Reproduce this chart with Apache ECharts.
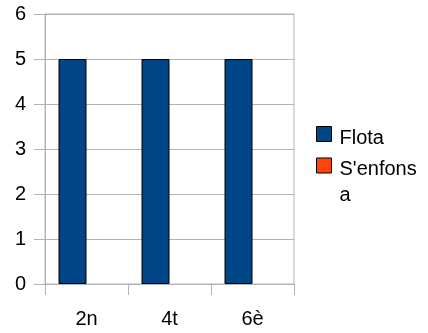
<!DOCTYPE html>
<html>
<head>
<meta charset="utf-8">
<script src="https://cdn.jsdelivr.net/npm/echarts@6/dist/echarts.min.js"></script>
<style>
  html, body { margin: 0; padding: 0; background: #fff; }
  #chart { width: 428px; height: 333px; }
</style>
</head>
<body>
<div id="chart"></div>
<script>
// values
const categories = ['2n', '4t', '6è'];
const flota = [5, 5, 5];
const senfonsa = [0, 0, 0];
const yTicks = [0, 1, 2, 3, 4, 5, 6];

const gray = '#b3b3b3';
const font = 'Liberation Sans, Arial, sans-serif';

// square icon sitting at the top-left of a bigger box, so the legend text
// lands a bit lower and further right than the square (as in the reference)
const iconFlota = 'path://M0,0H15V15H0Z M18,24L18,24';
const iconSenfonsa = 'path://M0,0H15V15H0Z M18,49L18,49';

const chart = echarts.init(document.getElementById('chart'), null, { renderer: 'canvas' });

const option = {
  backgroundColor: '#fff',
  animation: false,
  grid: {
    left: 45, right: 134, top: 14, bottom: 49,
    show: true, borderColor: gray, borderWidth: 1
  },
  legend: [
    {
      data: [{ name: 'Flota', icon: iconFlota }],
      orient: 'vertical',
      left: 316, top: 126, padding: 0,
      itemWidth: 18, itemHeight: 24,
      itemStyle: { borderColor: '#000', borderWidth: 1 },
      textStyle: { fontFamily: font, fontSize: 20, lineHeight: 20, color: '#000' },
      selectedMode: false
    },
    {
      data: [{
        name: "S'enfonsa",
        icon: iconSenfonsa,
        itemStyle: { color: '#ff420e', borderColor: '#000', borderWidth: 1 }
      }],
      orient: 'vertical',
      left: 316, top: 156.5, padding: 0,
      itemWidth: 18, itemHeight: 49,
      textStyle: {
        fontFamily: font, fontSize: 20, lineHeight: 26, color: '#000',
        width: 84, overflow: 'breakAll'
      },
      selectedMode: false
    }
  ],
  xAxis: {
    type: 'category',
    data: categories,
    axisLine: { lineStyle: { color: gray } },
    axisTick: { show: true, length: 11, lineStyle: { color: gray } },
    axisLabel: { margin: 25, fontFamily: font, fontSize: 20, color: '#000' },
    splitLine: { show: false }
  },
  yAxis: {
    type: 'value',
    min: yTicks[0],
    max: yTicks[yTicks.length - 1],
    interval: 1,
    axisLine: { show: true, lineStyle: { color: gray } },
    axisTick: { show: true, length: 11, lineStyle: { color: gray } },
    axisLabel: { margin: 19, fontFamily: font, fontSize: 20, color: '#000' },
    splitLine: { lineStyle: { color: gray } }
  },
  series: [
    {
      name: 'Flota',
      type: 'bar',
      data: flota,
      barWidth: 28,
      barGap: '0%',
      itemStyle: { color: '#004586', borderColor: '#000', borderWidth: 1 }
    },
    {
      name: "S'enfonsa",
      type: 'bar',
      data: senfonsa,
      barWidth: 28,
      barGap: '0%',
      itemStyle: { color: '#ff420e', borderWidth: 0 }
    }
  ]
};

chart.setOption(option);
</script>
</body>
</html>
